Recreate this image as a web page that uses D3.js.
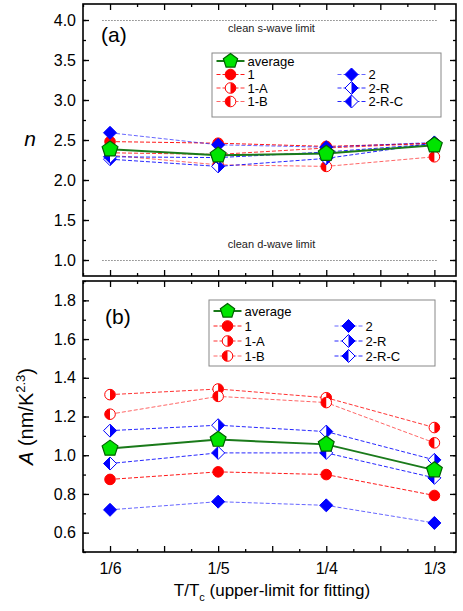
<!DOCTYPE html>
<html><head><meta charset="utf-8">
<script src="https://cdn.jsdelivr.net/npm/d3@7"></script>
<style>body{margin:0;background:#fff;}svg{display:block;font-family:"Liberation Sans",Arial,sans-serif;}</style>
</head><body>
<svg id="c" width="463" height="611"></svg>
<script>
// ---- data ----
const categories = ["1/6", "1/5", "1/4", "1/3"];
const seriesNames = ["1", "1-A", "1-B", "2", "2-R", "2-R-C"];
// panel (a): exponent n
const nAverage = [2.385, 2.31, 2.33, 2.435];
const n_1   = [2.48, 2.46, 2.42, 2.46];
const n_1A  = [2.34, 2.32, 2.40, 2.46];
const n_1B  = [2.31, 2.19, 2.17, 2.29];
const n_2   = [2.59, 2.44, 2.41, 2.47];
const n_2R  = [2.26, 2.17, 2.27, 2.46];
const n_2RC = [2.29, 2.28, 2.35, 2.45];
// panel (b): prefactor A
const aAverage = [1.035, 1.081, 1.056, 0.923];
const a_1   = [0.875, 0.914, 0.900, 0.792];
const a_1A  = [1.313, 1.342, 1.297, 1.143];
const a_1B  = [1.212, 1.304, 1.272, 1.064];
const a_2   = [0.718, 0.760, 0.741, 0.650];
const a_2R  = [1.127, 1.155, 1.122, 0.976];
const a_2RC = [0.957, 1.012, 1.012, 0.883];
const nTicks = [1.0, 1.5, 2.0, 2.5, 3.0, 3.5, 4.0];
const aTicks = [0.6, 0.8, 1.0, 1.2, 1.4, 1.6, 1.8];
const limits = [{v: 4.0, label: "clean s-wave limit"}, {v: 1.0, label: "clean d-wave limit"}];

// ---- styles ----
const styles = {
  "1":     {color: "#ff0000", marker: "circle",  half: "full",  op: 0.9},
  "1-A":   {color: "#ff0000", marker: "circle",  half: "right", op: 0.8},
  "1-B":   {color: "#ff0000", marker: "circle",  half: "left",  op: 0.6},
  "2":     {color: "#0000ff", marker: "diamond", half: "full",  op: 0.6},
  "2-R":   {color: "#0000ff", marker: "diamond", half: "right", op: 0.85},
  "2-R-C": {color: "#0000ff", marker: "diamond", half: "left",  op: 0.85}
};
const nData = {"1": n_1, "1-A": n_1A, "1-B": n_1B, "2": n_2, "2-R": n_2R, "2-R-C": n_2RC};
const aData = {"1": a_1, "1-A": a_1A, "1-B": a_1B, "2": a_2, "2-R": a_2R, "2-R-C": a_2RC};

const svg = d3.select("#c");
const X0 = 83, X1 = 456;
const x = d3.scaleLinear().domain([-0.25, 3.2]).range([X0, X1]);
const panels = [
  {id: "a", top: 4, bottom: 276, domain: [0.8, 4.2], major: 0.5, minor: 0.25, ticks: nTicks, fmt: d3.format(".1f"),
   avg: nAverage, data: nData, label: "(a)", labelY: 42, labelX: 101,
   legend: {x0: 212, x1: 441, y0: 53, y1: 117, rows: [61, 74.5, 88, 101.5]}},
  {id: "b", top: 281, bottom: 552, domain: [0.5, 1.9], major: 0.2, minor: 0.1, ticks: aTicks, fmt: d3.format(".1f"),
   avg: aAverage, data: aData, label: "(b)", labelY: 324, labelX: 105,
   legend: {x0: 209, x1: 435, y0: 300, y1: 366, rows: [311, 326, 341, 356]}}
];

function drawMarker(g, kind, half, color, cx, cy, size) {
  const s = g.append("g").attr("transform", `translate(${cx},${cy})`);
  if (kind === "circle") {
    const r = size;
    s.append("circle").attr("r", r).attr("fill", half === "full" ? color : "#fff").attr("stroke", color).attr("stroke-width", 1);
    if (half === "right") s.append("path").attr("d", `M0,${-r}A${r},${r} 0 0 1 0,${r}Z`).attr("fill", color);
    if (half === "left") s.append("path").attr("d", `M0,${-r}A${r},${r} 0 0 0 0,${r}Z`).attr("fill", color);
  } else if (kind === "diamond") {
    const h = size;
    s.append("path").attr("d", `M0,${-h}L${h},0L0,${h}L${-h},0Z`).attr("fill", half === "full" ? color : "#fff").attr("stroke", color).attr("stroke-width", 1);
    if (half === "right") s.append("path").attr("d", `M0,${-h}L${h},0L0,${h}Z`).attr("fill", color);
    if (half === "left") s.append("path").attr("d", `M0,${-h}L${-h},0L0,${h}Z`).attr("fill", color);
  } else if (kind === "pentagon") {
    const r = size;
    const pts = d3.range(5).map(i => {
      const a = -Math.PI / 2 + i * 2 * Math.PI / 5;
      return [r * Math.cos(a), r * Math.sin(a)];
    });
    s.append("path").attr("d", "M" + pts.join("L") + "Z").attr("fill", "#00e400").attr("stroke", "#006000").attr("stroke-width", 1.2);
  }
}

panels.forEach(p => {
  const y = d3.scaleLinear().domain(p.domain).range([p.bottom, p.top]);
  const g = svg.append("g");
  const H = p.bottom - p.top, W = X1 - X0;

  // ticks - left/right
  const yMajor = d3.range(Math.ceil(p.domain[0] / p.major - 1e-9), Math.floor(p.domain[1] / p.major + 1e-9) + 1).map(k => +(k * p.major).toFixed(3));
  const yMinor = d3.range(Math.ceil(p.domain[0] / p.minor - 1e-9), Math.floor(p.domain[1] / p.minor + 1e-9) + 1).map(k => +(k * p.minor).toFixed(3));
  g.append("g").attr("transform", `translate(${X0},0)`).call(d3.axisLeft(y).tickValues(yMinor).tickSize(-3).tickFormat("")).call(a => a.select(".domain").remove());
  g.append("g").attr("transform", `translate(${X0},0)`).call(d3.axisLeft(y).tickValues(yMajor).tickSize(-6).tickFormat("")).call(a => a.select(".domain").remove());
  g.append("g").attr("transform", `translate(${X1},0)`).call(d3.axisRight(y).tickValues(yMinor).tickSize(-3).tickFormat("")).call(a => a.select(".domain").remove());
  g.append("g").attr("transform", `translate(${X1},0)`).call(d3.axisRight(y).tickValues(yMajor).tickSize(-6).tickFormat("")).call(a => a.select(".domain").remove());
  // tick labels
  g.append("g").attr("transform", `translate(${X0},0)`).call(d3.axisLeft(y).tickValues(p.ticks).tickSize(0).tickPadding(7).tickFormat(p.fmt))
    .call(a => { a.select(".domain").remove(); a.selectAll("text").attr("font-size", 16).attr("fill", "#000").attr("font-family", "Liberation Sans, Arial, sans-serif"); });

  // x ticks top/bottom
  const xMajor = d3.range(0, 3.01, 0.5);
  const xMinor = d3.range(-0.25, 3.2, 0.25).filter(v => Math.abs(v / 0.5 - Math.round(v / 0.5)) > 1e-6);
  [[p.bottom, d3.axisBottom], [p.top, d3.axisTop]].forEach(([yy, ax]) => {
    g.append("g").attr("transform", `translate(0,${yy})`).call(ax(x).tickValues(xMinor).tickSize(-3).tickFormat("")).call(a => a.select(".domain").remove());
    g.append("g").attr("transform", `translate(0,${yy})`).call(ax(x).tickValues(xMajor).tickSize(-6).tickFormat("")).call(a => a.select(".domain").remove());
  });
  g.selectAll(".tick line").attr("stroke", "#000").attr("stroke-width", 1.3);

  // frame
  g.append("rect").attr("x", X0).attr("y", p.top).attr("width", W).attr("height", H).attr("fill", "none").attr("stroke", "#000").attr("stroke-width", 1.6);

  // limit lines for panel a
  if (p.id === "a") {
    limits.forEach(l => {
      g.append("line").attr("x1", x(-0.07)).attr("x2", x(3.03)).attr("y1", y(l.v) + 0.5).attr("y2", y(l.v) + 0.5)
        .attr("stroke", "#444").attr("stroke-width", 1).attr("stroke-dasharray", "1,2");
      const ty = l.v > 2 ? y(l.v) + 12 : y(l.v) - 12;
      g.append("text").attr("x", (X0 + X1) / 2 + 2).attr("y", ty).attr("text-anchor", "middle")
        .attr("font-size", 11).attr("fill", "#222").text(l.label);
    });
  }

  // series
  const line = d3.line().x((d, i) => x(i)).y(d => y(d));
  seriesNames.forEach(name => {
    const st = styles[name];
    g.append("path").attr("d", line(p.data[name])).attr("fill", "none").attr("stroke", st.color)
      .attr("stroke-opacity", st.op).attr("stroke-width", 1).attr("stroke-dasharray", "4,2");
  });
  seriesNames.forEach(name => {
    const st = styles[name];
    p.data[name].forEach((v, i) => drawMarker(g, st.marker, st.half, st.color, x(i), y(v), st.marker === "circle" ? 5.3 : 6.5));
  });
  g.append("path").attr("d", line(p.avg)).attr("fill", "none").attr("stroke", "#1a7a1a").attr("stroke-width", 2);
  p.avg.forEach((v, i) => drawMarker(g, "pentagon", "full", "", x(i), y(v), 8.3));

  // panel label
  g.append("text").attr("x", p.labelX).attr("y", p.labelY).attr("font-size", 21).text(p.label);

  // legend
  const L = p.legend;
  g.append("rect").attr("x", L.x0).attr("y", L.y0).attr("width", L.x1 - L.x0).attr("height", L.y1 - L.y0)
    .attr("fill", "#fff").attr("stroke", "#888").attr("stroke-width", 1);
  const c1 = L.x0 + 18.5, c2 = L.x0 + 139.5;
  // average entry
  g.append("line").attr("x1", c1 - 14).attr("x2", c1 + 14).attr("y1", L.rows[0]).attr("y2", L.rows[0]).attr("stroke", "#1a7a1a").attr("stroke-width", 2);
  drawMarker(g, "pentagon", "full", "", c1, L.rows[0], 7.5);
  g.append("text").attr("x", c1 + 17).attr("y", L.rows[0] + 4.5).attr("font-size", 13).text("average");
  seriesNames.forEach((name, k) => {
    const st = styles[name];
    const col = k < 3 ? c1 : c2;
    const ry = k < 3 ? L.rows[k + 1] : L.rows[k - 2];
    g.append("line").attr("x1", col - 14).attr("x2", col + 14).attr("y1", ry).attr("y2", ry)
      .attr("stroke", st.color).attr("stroke-opacity", st.op).attr("stroke-width", 1).attr("stroke-dasharray", "4,2");
    drawMarker(g, st.marker, st.half, st.color, col, ry, st.marker === "circle" ? 5.3 : 6.5);
    g.append("text").attr("x", col + 17).attr("y", ry + 4.5).attr("font-size", 13).text(name);
  });

  // y-axis title
  if (p.id === "a") {
    svg.append("text").attr("x", 30).attr("y", 146).attr("text-anchor", "middle").attr("font-size", 21)
      .attr("font-style", "italic").text("n");
  } else {
    const t = svg.append("text").attr("transform", `translate(33,${(p.top + p.bottom) / 2}) rotate(-90)`)
      .attr("text-anchor", "middle").attr("font-size", 20);
    t.append("tspan").attr("font-style", "italic").text("A");
    t.append("tspan").text(" (nm/K");
    t.append("tspan").attr("font-size", 13).attr("dy", -8).text("2.3");
    t.append("tspan").attr("dy", 8).text(")");
  }
});

// x tick labels (bottom panel)
const bottomY = 552;
svg.append("g").attr("transform", `translate(0,${bottomY})`)
  .call(d3.axisBottom(x).tickValues([0, 1, 2, 3]).tickSize(0).tickPadding(11).tickFormat((d, i) => categories[i]))
  .call(a => { a.select(".domain").remove(); a.selectAll("text").attr("font-size", 16).attr("fill", "#000").attr("font-family", "Liberation Sans, Arial, sans-serif"); });

// x-axis title
const xt = svg.append("text").attr("x", 272).attr("y", 596).attr("text-anchor", "middle").attr("font-size", 17);
xt.append("tspan").text("T/T");
xt.append("tspan").attr("font-size", 11).attr("dy", 5).text("c");
xt.append("tspan").attr("dy", -5).text(" (upper-limit for fitting)");
</script>
</body></html>
